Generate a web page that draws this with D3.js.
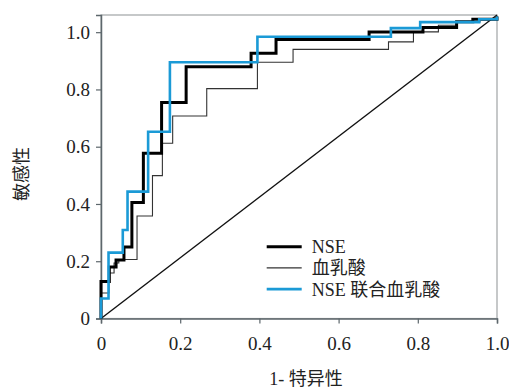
<!DOCTYPE html>
<html>
<head>
<meta charset="utf-8">
<script src="https://cdn.jsdelivr.net/npm/d3@7"></script>
<style>
  body { margin: 0; background: #fff; }
  svg { display: block; }
  text { font-family: "Liberation Serif", "Noto Sans CJK SC", serif; }
</style>
</head>
<body>
<div id="chart"></div>
<script>
// ROC 拐点 (1-特异性, 敏感性)
const nseFpr = [0, 0, 0.021, 0.038, 0.058, 0.078, 0.107, 0.153, 0.215, 0.379, 0.442, 0.677, 0.813, 0.898, 0.939, 1.0];
const nseTpr = [0, 0.129, 0.180, 0.204, 0.250, 0.405, 0.577, 0.754, 0.879, 0.926, 0.974, 1.001, 1.016, 1.036, 1.045, 1.055];

const lacFpr = [0, 0, 0.020, 0.033, 0.045, 0.091, 0.130, 0.155, 0.181, 0.267, 0.395, 0.485, 0.726, 0.789, 0.852, 0.898, 0.957, 1.0];
const lacTpr = [0, 0.089, 0.159, 0.194, 0.206, 0.358, 0.499, 0.612, 0.707, 0.803, 0.895, 0.940, 0.966, 1.001, 1.024, 1.036, 1.045, 1.055];

const combFpr = [0, 0, 0.019, 0.055, 0.067, 0.119, 0.174, 0.395, 0.732, 0.806, 0.955, 1.0];
const combTpr = [0, 0.070, 0.230, 0.309, 0.443, 0.652, 0.895, 0.984, 1.014, 1.035, 1.045, 1.055];

const refLine = [[0, 0], [1, 1.06]];

const xTicks = [0, 0.2, 0.4, 0.6, 0.8, 1.0];
const yTicks = [0, 0.2, 0.4, 0.6, 0.8, 1.0];

const seriesNames = ["NSE", "血乳酸", "NSE 联合血乳酸"];

const width = 509, height = 392;
const margin = { top: 15, right: 12, bottom: 73.5, left: 101 };

const svg = d3.select("#chart").append("svg")
    .attr("width", width)
    .attr("height", height);

const x = d3.scaleLinear()
    .domain([0, 1])
    .range([margin.left, width - margin.right]);

const y = d3.scaleLinear()
    .domain([0, 1.06])
    .range([height - margin.bottom, margin.top]);

// 外框（上、右）
svg.append("rect")
    .attr("x", x(0))
    .attr("y", y(1.06))
    .attr("width", x(1) - x(0))
    .attr("height", y(0) - y(1.06))
    .attr("fill", "none")
    .attr("stroke", "#a0a4a6")
    .attr("stroke-width", 1.2);

const fmt = d => d === 0 ? "0" : d3.format(".1f")(d);

const xAxis = d3.axisBottom(x)
    .tickValues(xTicks)
    .tickFormat(fmt)
    .tickSize(5)
    .tickPadding(13);

const yAxis = d3.axisLeft(y)
    .tickValues(yTicks)
    .tickFormat(fmt)
    .tickSize(5)
    .tickPadding(6);

const gx = svg.append("g")
    .attr("transform", `translate(0,${y(0)})`)
    .call(xAxis);

const gy = svg.append("g")
    .attr("transform", `translate(${x(0)},0)`)
    .call(yAxis);

[gx, gy].forEach(g => {
    g.attr("font-family", null).attr("font-size", null);
    g.select(".domain").attr("stroke", "#5d676c").attr("stroke-width", 1.5);
    g.selectAll(".tick line").attr("stroke", "#5d676c").attr("stroke-width", 1.2);
    g.selectAll(".tick text")
        .attr("fill", "#222")
        .style("font-size", "19px");
});

// 参考线
svg.append("path")
    .datum(refLine)
    .attr("fill", "none")
    .attr("stroke", "#111")
    .attr("stroke-width", 1.4)
    .attr("d", d3.line().x(d => x(d[0])).y(d => y(d[1])));

const stepLine = d3.line()
    .x(d => x(d[0]))
    .y(d => y(d[1]))
    .curve(d3.curveStepAfter);

const series = [
    { name: seriesNames[1], fpr: lacFpr, tpr: lacTpr, color: "#333", width: 1.1 },
    { name: seriesNames[0], fpr: nseFpr, tpr: nseTpr, color: "#000", width: 3 },
    { name: seriesNames[2], fpr: combFpr, tpr: combTpr, color: "#1b9ad6", width: 2.6 }
];

series.forEach(s => {
    svg.append("path")
        .datum(s.fpr.map((f, i) => [f, s.tpr[i]]))
        .attr("fill", "none")
        .attr("stroke", s.color)
        .attr("stroke-width", s.width)
        .attr("d", stepLine);
});

// 图例
const legendItems = [series[1], series[0], series[2]];
const legend = svg.append("g").attr("transform", "translate(266.7,246.7)");

legendItems.forEach((s, i) => {
    const row = legend.append("g").attr("transform", `translate(0,${i * 21.2})`);
    row.append("line")
        .attr("x1", 0).attr("x2", 35)
        .attr("y1", 0).attr("y2", 0)
        .attr("stroke", s.color)
        .attr("stroke-width", s.width);
    row.append("text")
        .attr("x", 45)
        .attr("y", 0)
        .attr("dy", "0.36em")
        .attr("fill", "#222")
        .style("font-size", "18px")
        .text(s.name);
});

// 坐标轴标题
svg.append("text")
    .attr("x", 306)
    .attr("y", 379)
    .attr("dy", "0.35em")
    .attr("text-anchor", "middle")
    .attr("fill", "#222")
    .style("font-size", "18px")
    .text("1- 特异性");

svg.append("text")
    .attr("transform", "translate(22,174) rotate(-90)")
    .attr("text-anchor", "middle")
    .attr("dy", "0.35em")
    .attr("fill", "#222")
    .style("font-size", "18px")
    .text("敏感性");
</script>
</body>
</html>
